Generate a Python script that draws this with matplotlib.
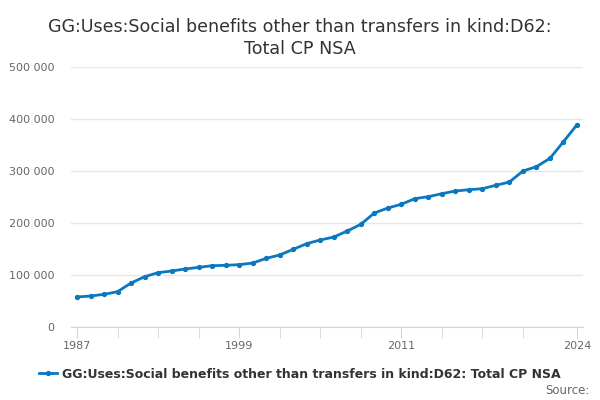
import matplotlib
matplotlib.use("Agg")
import matplotlib.pyplot as plt
import matplotlib.ticker as ticker

years = list(range(1987, 2025))
values = [57.7, 59.6, 62.8, 67.9, 84.6, 96.7, 104.5, 107.7, 111.5, 114.7,
          117.9, 118.6, 119.9, 123.0, 132.0, 138.5, 149.4, 160.3, 167.3, 173.0,
          184.6, 197.4, 219.2, 228.8, 236.0, 246.8, 250.6, 256.4, 261.5, 264.0,
          266.0, 272.5, 278.8, 300.0, 308.3, 324.4, 356.4, 389.0]
values = [v * 1000 for v in values]

series_name = "GG:Uses:Social benefits other than transfers in kind:D62: Total CP NSA"
title = "GG:Uses:Social benefits other than transfers in kind:D62:\nTotal CP NSA"
xlabels = [1987, 1999, 2011, 2024]
xticks_minor = list(range(1987, 2021, 3)) + [2024]
yticks = [0, 100000, 200000, 300000, 400000, 500000]

line_col = "#0a78c0"
grid_col = "#e6e6e6"
axis_col = "#ccd6eb"
text_col = "#666666"

fig = plt.figure(figsize=(6, 4), dpi=100)
ax = fig.add_axes([71 / 600, 1 - 327 / 400, (583 - 71) / 600, (327 - 67) / 400])

ax.plot(years, values, color=line_col, lw=2, marker="o", ms=2.8, label=series_name)

ax.set_xlim(1987 - 6 / 13.51, 2024 + 6 / 13.51)
ax.set_ylim(0, 500000)

ax.set_yticks(yticks)
ax.yaxis.set_major_formatter(ticker.FuncFormatter(lambda v, p: f"{int(v):,}".replace(",", " ")))
ax.tick_params(axis="y", length=0, labelsize=8, labelcolor=text_col, pad=12)
ax.grid(axis="y", color=grid_col, lw=1)
ax.set_axisbelow(True)

ax.set_xticks(xticks_minor, minor=True)
ax.set_xticks(xlabels)
ax.set_xticklabels([str(x) for x in xlabels])
ax.tick_params(axis="x", which="both", length=8, color=axis_col, labelsize=8, labelcolor=text_col, pad=2)

for s in ["top", "right", "left"]:
    ax.spines[s].set_visible(False)
ax.spines["bottom"].set_color(axis_col)

fig.text(0.5, 0.955, title, ha="center", va="top", fontsize=12.6, color="#333333", linespacing=1.3)

leg = fig.legend(loc="center", bbox_to_anchor=(0.5, 1 - 374 / 400), frameon=False,
                 prop={"size": 9, "weight": "bold"}, handlelength=1.4, handletextpad=0.4,
                 labelcolor="#333333")
fig.text(0.982, 1 - 391 / 400, "Source:", ha="right", va="center", fontsize=8.5, color=text_col)

fig.savefig("out.png", dpi=100)
